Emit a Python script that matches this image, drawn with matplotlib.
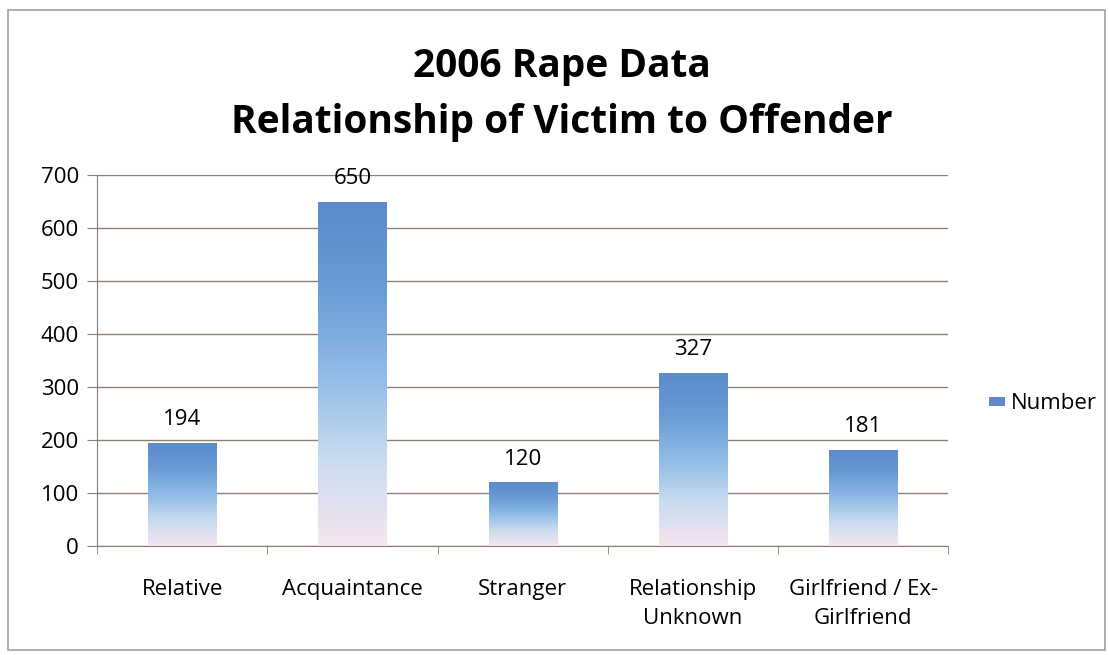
import numpy as np
import matplotlib.pyplot as plt
from matplotlib.colors import LinearSegmentedColormap
from matplotlib.patches import Rectangle

# data
categories = ["Relative", "Acquaintance", "Stranger", "Relationship\nUnknown", "Girlfriend / Ex-\nGirlfriend"]
numbers = [194, 650, 120, 327, 181]
yticks = [0, 100, 200, 300, 400, 500, 600, 700]

plt.rcParams['font.family'] = ['Open Sans', 'DejaVu Sans']
line_col = '#8c7d75'

fig = plt.figure(figsize=(11.09, 6.55), dpi=100)
ax = fig.add_axes([0.0875, 0.1664, 0.7675, 0.5664])

# outer frame like the spreadsheet chart border
fig.patches.append(Rectangle((0.007, 0.008), 0.989, 0.977, transform=fig.transFigure,
                             fill=False, edgecolor='#a0a0a0', linewidth=1.2))

x = np.arange(len(categories))
bars = ax.bar(x, numbers, width=0.4, color='none', edgecolor='none', zorder=3)

# vertical gradient inside each bar
cmap = LinearSegmentedColormap.from_list('bar', ['#f6e6ef', '#c9dcf0', '#8fbbe6', '#6a9bd6', '#5b8bcc'])
grad = np.linspace(0, 1, 256).reshape(-1, 1)
for b in bars:
    im = ax.imshow(grad, cmap=cmap, aspect='auto', origin='lower', zorder=3,
                   extent=[b.get_x(), b.get_x() + b.get_width(), 0, b.get_height()])
    im.set_clip_path(b)
    ax.text(b.get_x() + b.get_width() / 2, b.get_height() + 24, str(int(b.get_height())),
            ha='center', va='bottom', fontsize=16, zorder=4)

ax.set_xlim(-0.5, len(categories) - 0.5)
ax.set_ylim(0, 700)
ax.set_yticks(yticks)
ax.yaxis.grid(True, color=line_col, linewidth=1.0)
ax.set_axisbelow(True)

ax.set_xticks(x)
ax.set_xticklabels(categories, fontsize=16, linespacing=1.5)
ax.set_xticks(np.arange(len(categories) + 1) - 0.5, minor=True)
ax.tick_params(axis='x', which='major', length=0, pad=24)
ax.tick_params(axis='x', which='minor', length=6, color=line_col)
ax.tick_params(axis='y', length=7, color=line_col, labelsize=16, pad=6)

for s in ['top', 'right']:
    ax.spines[s].set_visible(False)
for s in ['left', 'bottom']:
    ax.spines[s].set_color(line_col)

fig.text(0.507, 0.899, "2006 Rape Data", ha='center', va='center', fontsize=28, fontweight='bold')
fig.text(0.507, 0.813, "Relationship of Victim to Offender", ha='center', va='center', fontsize=28, fontweight='bold')

# legend
ax.bar([0], [0], color='#5b8bcc', label='Number')
ax.legend(loc='center left', bbox_to_anchor=(1.025, 0.383), frameon=False, fontsize=16,
          handlelength=0.7, handleheight=0.3, handletextpad=0.25)

fig.savefig("out.png", dpi=100)
